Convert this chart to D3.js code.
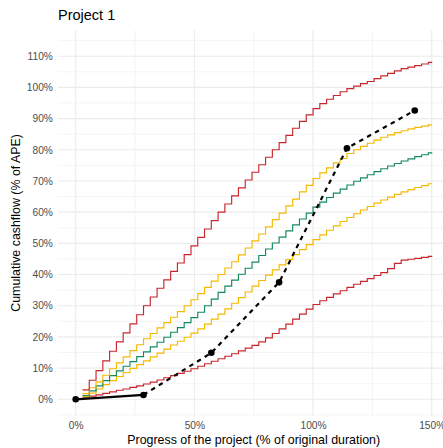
<!DOCTYPE html>
<html>
<head>
<meta charset="utf-8">
<script src="https://cdn.jsdelivr.net/npm/d3@7"></script>
<style>
  body { margin: 0; background: #fff; }
  text { font-family: "Liberation Sans", Arial, sans-serif; }
</style>
</head>
<body>
<div id="chart"></div>
<script>
// project duration in months, progress steps are monthly
var duration = 35;
var months = [1,2,3,4,5,6,7,8,9,10,11,12,13,14,15,16,17,18,19,20,21,22,23,24,25,26,
    27,28,29,30,31,32,33,34,35,36,37,38,39,40,41,42,43,44,45,46,47,48,49,50,51,52,52.5];

// cumulative cashflow bands (% of APE)
var redUpper = [3.0,6.1,9.2,12.3,15.4,18.4,21.3,24.2,27.1,30.0,32.8,35.6,38.3,41.0,43.7,46.4,49.2,
    51.9,54.6,57.3,60.0,62.6,65.2,67.8,70.3,72.8,75.2,77.6,80.0,82.3,84.6,86.9,89.1,91.2,93.2,
    94.8,96.2,97.4,98.6,99.6,100.4,101.2,101.9,102.8,103.7,104.5,105.3,106.0,106.5,107.0,107.5,108.0,108.2];
var yellowUpper = [1.8,3.7,5.6,7.7,9.8,11.7,13.6,15.6,17.5,19.4,21.1,22.9,24.6,26.3,28.1,30.0,31.9,
    33.9,35.9,37.9,40.0,42.1,44.1,46.3,48.5,50.8,53.0,55.3,57.6,59.7,62.0,64.2,66.5,68.6,70.8,
    72.6,74.2,75.8,77.2,78.8,80.0,81.1,82.1,83.1,84.0,84.8,85.5,86.1,86.7,87.2,87.6,88.0,88.1];
var median = [1.2,2.7,4.3,6.0,7.6,9.1,10.6,12.1,13.7,15.2,16.8,18.3,19.9,21.5,23.0,24.6,26.2,
    27.9,30.0,32.1,34.3,36.3,38.2,40.1,42.0,44.0,46.1,48.2,50.1,52.0,54.0,55.9,57.8,59.7,61.6,
    63.2,64.7,66.1,67.4,68.7,69.9,71.0,72.0,73.0,73.9,74.8,75.6,76.4,77.1,77.8,78.4,79.0,79.2];
var yellowLower = [0.8,2.0,3.3,4.7,6.0,7.3,8.6,9.9,11.1,12.3,13.6,14.8,16.1,17.4,18.6,19.9,21.2,
    22.6,24.1,25.7,27.3,29.0,30.8,32.6,34.4,36.3,38.1,39.8,41.5,43.1,44.8,46.4,48.0,49.6,51.2,
    52.7,54.2,55.6,57.0,58.3,59.5,60.7,61.8,62.9,63.9,64.8,65.7,66.5,67.2,67.9,68.5,69.1,69.3];
var redLower = [0.5,1.0,1.4,1.9,2.4,2.9,3.3,3.8,4.3,4.9,5.5,6.2,6.9,7.6,8.3,9.0,9.8,
    10.6,11.4,12.2,13.0,13.8,14.6,15.5,16.4,17.3,18.4,19.7,21.1,22.6,24.1,25.7,27.3,28.9,30.4,
    31.6,32.7,33.8,34.8,35.9,36.9,37.8,38.7,39.7,40.6,41.9,43.6,44.6,44.9,45.2,45.5,45.8,46.0];

// actual project: progress (%) and cumulative cashflow (%)
var actualProgress = [0, 28.57, 57.14, 85.71, 114.29, 142.86];
var actualCashflow = [0, 1.4, 14.9, 37.5, 80.5, 92.6];

var xTicks = [0, 50, 100, 150];
var yTicks = [0,10,20,30,40,50,60,70,80,90,100,110];

var width = 443, height = 448;
var svg = d3.select("#chart").append("svg")
    .attr("width", width)
    .attr("height", height);

var x = d3.scaleLinear().domain([-7.5, 157.5]).range([57.9, 449.5]);
var y = d3.scaleLinear().domain([-5.26, 118.4]).range([415.7, 30]);

// grid
var xMinor = [25, 75, 125];
var yMinor = d3.range(-5, 120, 10).filter(function(d){ return d > -5.26 && d < 118.4; });

svg.append("g").selectAll("line.xminor").data(xMinor).enter().append("line")
    .attr("x1", x).attr("x2", x).attr("y1", 30).attr("y2", 415.7)
    .style("stroke", "#ebebeb").style("stroke-width", 0.55);
svg.append("g").selectAll("line.yminor").data(yMinor).enter().append("line")
    .attr("x1", 57.9).attr("x2", 449.5).attr("y1", y).attr("y2", y)
    .style("stroke", "#ebebeb").style("stroke-width", 0.55);
svg.append("g").selectAll("line.xmajor").data(xTicks).enter().append("line")
    .attr("x1", x).attr("x2", x).attr("y1", 30).attr("y2", 415.7)
    .style("stroke", "#ebebeb").style("stroke-width", 1.1);
svg.append("g").selectAll("line.ymajor").data(yTicks).enter().append("line")
    .attr("x1", 57.9).attr("x2", 449.5).attr("y1", y).attr("y2", y)
    .style("stroke", "#ebebeb").style("stroke-width", 1.1);

// axes (labels only, like theme_minimal)
var xAxis = svg.append("g")
    .attr("transform", "translate(0,415.7)")
    .call(d3.axisBottom(x).tickValues(xTicks).tickSize(0).tickPadding(6)
        .tickFormat(function(d){ return d + "%"; }));
var yAxis = svg.append("g")
    .attr("transform", "translate(57.9,0)")
    .call(d3.axisLeft(y).tickValues(yTicks).tickSize(0).tickPadding(5)
        .tickFormat(function(d){ return d + "%"; }));
[xAxis, yAxis].forEach(function(a){
    a.select(".domain").remove();
    a.selectAll("text")
        .style("font-family", "'Liberation Sans', Arial, sans-serif")
        .style("font-size", "10.2px")
        .style("fill", "#4d4d4d");
});

// bands
var toProgress = function(m){ return m / duration * 100; };
var bandLine = d3.line()
    .x(function(d){ return x(toProgress(d[0])); })
    .y(function(d){ return y(d[1]); })
    .curve(d3.curveStepAfter);

var bands = [
    {values: redLower, color: "#c8262c"},
    {values: yellowLower, color: "#f5b900"},
    {values: median, color: "#138a5c"},
    {values: yellowUpper, color: "#f5b900"},
    {values: redUpper, color: "#c8262c"}
];

bands.forEach(function(b){
    svg.append("path")
        .datum(d3.zip(months, b.values))
        .attr("d", bandLine)
        .style("fill", "none")
        .style("stroke", b.color)
        .style("stroke-width", 1.15);
});

// actual cashflow
var actual = d3.zip(actualProgress, actualCashflow);
var actLine = d3.line()
    .x(function(d){ return x(d[0]); })
    .y(function(d){ return y(d[1]); });

svg.append("path")
    .datum(actual.slice(0, 2))
    .attr("d", actLine)
    .style("fill", "none")
    .style("stroke", "#000")
    .style("stroke-width", 2.2);

svg.append("path")
    .datum(actual.slice(1))
    .attr("d", actLine)
    .style("fill", "none")
    .style("stroke", "#000")
    .style("stroke-width", 2.2)
    .style("stroke-dasharray", "4.5,4.5");

svg.selectAll("circle.pt").data(actual).enter().append("circle")
    .attr("cx", function(d){ return x(d[0]); })
    .attr("cy", function(d){ return y(d[1]); })
    .attr("r", 3.3)
    .style("fill", "#000");

// titles
svg.append("text")
    .attr("x", 58)
    .attr("y", 20)
    .style("font-size", "14.5px")
    .style("fill", "#000")
    .text("Project 1");

svg.append("text")
    .attr("x", 253.7)
    .attr("y", 443.5)
    .style("text-anchor", "middle")
    .style("font-size", "12.4px")
    .style("fill", "#000")
    .text("Progress of the project (% of original duration)");

svg.append("text")
    .attr("transform", "translate(19.5,222.9) rotate(-90)")
    .style("text-anchor", "middle")
    .style("font-size", "12.4px")
    .style("fill", "#000")
    .text("Cumulative cashflow (% of APE)");
</script>
</body>
</html>
